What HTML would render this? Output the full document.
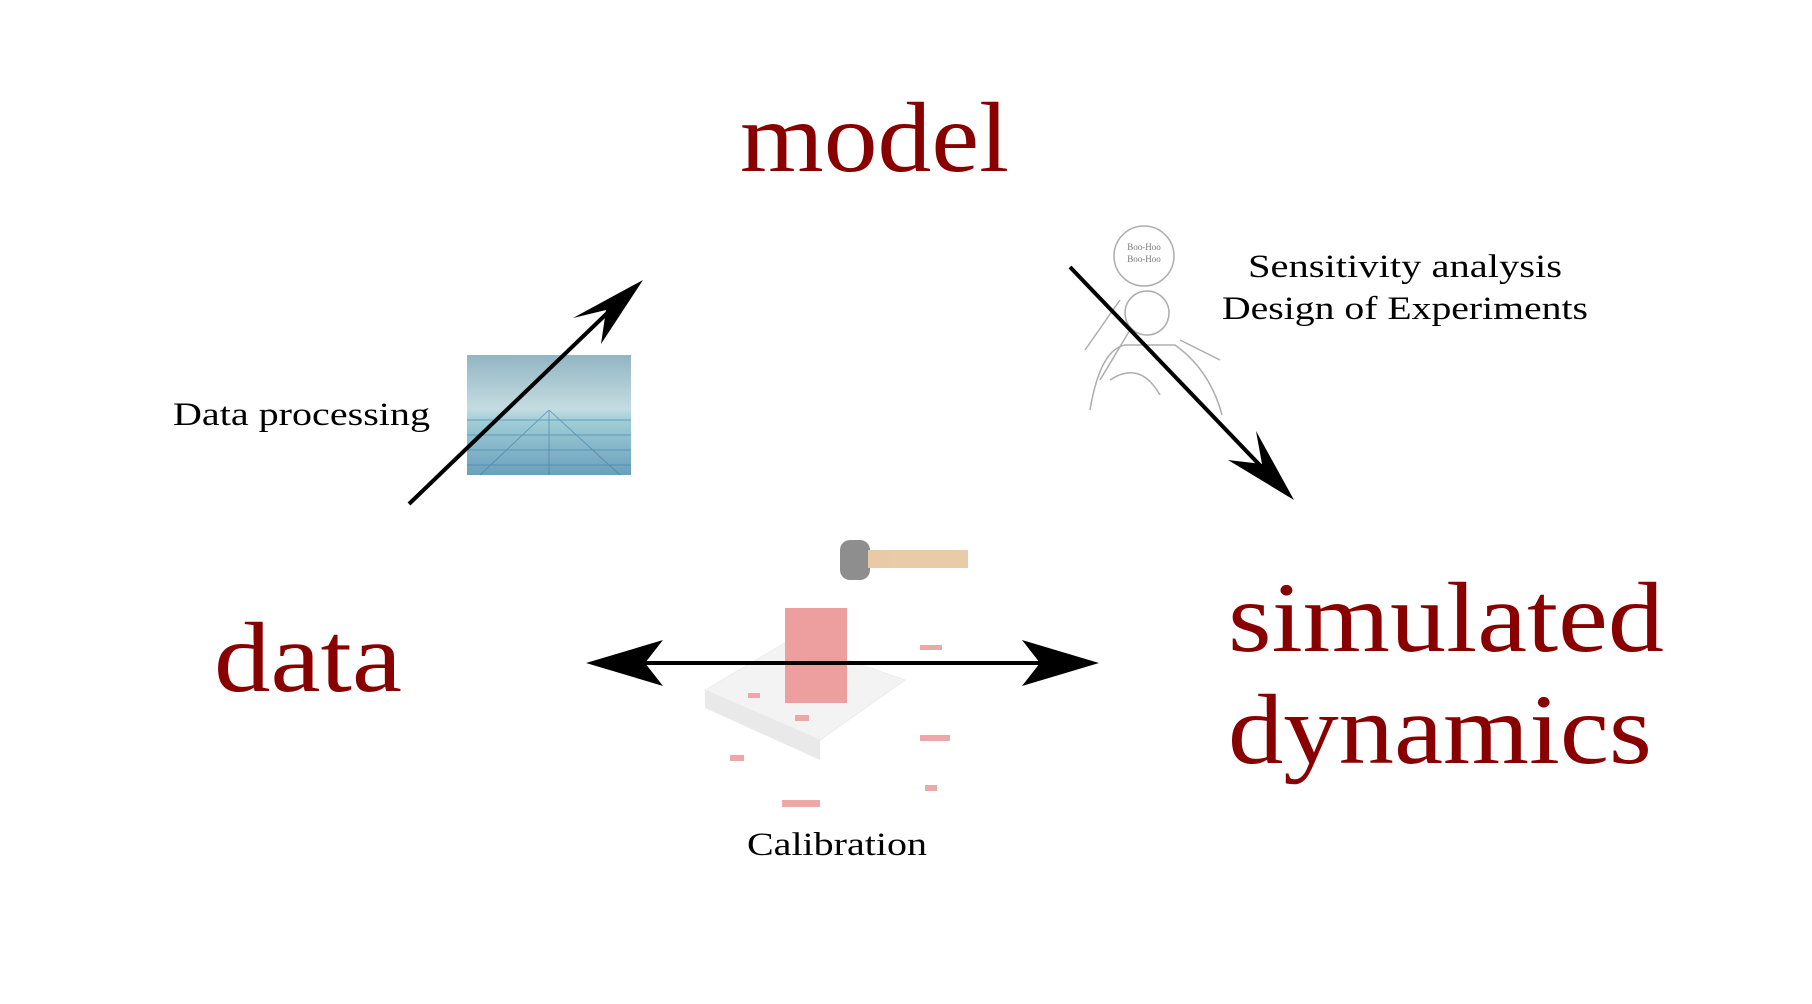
<!DOCTYPE html>
<html><head><meta charset="utf-8"><style>
html,body{margin:0;padding:0;background:#fff;width:1812px;height:1004px;overflow:hidden}
svg{display:block}
text{font-family:"Liberation Serif","DejaVu Serif",serif}
</style></head><body>
<svg width="1812" height="1004" viewBox="0 0 1812 1004">
<defs>
<linearGradient id="blu" x1="0" y1="0" x2="0" y2="1">
<stop offset="0" stop-color="#7fa8b8"/><stop offset="0.45" stop-color="#b9d6dc"/><stop offset="0.55" stop-color="#8fc4d0"/><stop offset="1" stop-color="#4f8fb0"/></linearGradient>
</defs>
<!-- data processing image -->
<rect x="467" y="355" width="164" height="120" fill="url(#blu)" opacity="0.85"/>
<g stroke="#3f7ea6" stroke-width="1" opacity="0.6">
<line x1="467" y1="420" x2="631" y2="420"/><line x1="467" y1="435" x2="631" y2="435"/><line x1="467" y1="450" x2="631" y2="450"/><line x1="467" y1="465" x2="631" y2="465"/>
<line x1="549" y1="410" x2="480" y2="475"/><line x1="549" y1="410" x2="620" y2="475"/><line x1="549" y1="410" x2="549" y2="475"/>
</g>
<!-- calibration image -->
<g opacity="0.55">
<polygon points="705,690 790,640 905,680 820,740" fill="#eaeaea" stroke="#ddd"/>
<polygon points="705,690 820,740 820,760 705,708" fill="#d8d8d8"/>
<rect x="785" y="608" width="62" height="95" fill="#e05050"/>
<rect x="840" y="540" width="30" height="40" rx="10" fill="#333"/>
<rect x="868" y="550" width="100" height="18" fill="#d8a060"/>
<g fill="#e06060"><rect x="748" y="693" width="12" height="5"/><rect x="795" y="715" width="14" height="6"/><rect x="920" y="735" width="30" height="6"/><rect x="730" y="755" width="14" height="6"/><rect x="782" y="800" width="38" height="7"/><rect x="925" y="785" width="12" height="6"/><rect x="920" y="645" width="22" height="5"/></g>
</g>
<!-- cartoon -->
<g fill="none" stroke="#999" stroke-width="1.5" opacity="0.8">
<ellipse cx="1144" cy="256" rx="30" ry="30"/>
<circle cx="1147" cy="313" r="22"/>
<path d="M1090 410 Q1100 350 1125 345 L1175 345 Q1210 370 1222 415"/>
<path d="M1085 350 L1120 300 M1100 380 L1130 330 M1180 340 L1220 360"/>
<path d="M1110 380 Q1140 360 1160 395"/>
</g>
<g font-size="9" fill="#777" text-anchor="middle"><text x="1144" y="250">Boo-Hoo</text><text x="1144" y="262">Boo-Hoo</text></g>
<!-- arrows -->
<g stroke="#000" stroke-width="4" fill="#000">
<line x1="409" y1="504" x2="625" y2="296"/>
<line x1="1070" y1="267" x2="1275" y2="481"/>
<line x1="610" y1="663" x2="1075" y2="663"/>
</g>
<polygon points="643,280 573,318 606,310 601,344" fill="#000"/>
<polygon points="1294,500 1256,431 1262,464 1228,460" fill="#000"/>
<polygon points="586,663 663,640 645,663 663,686" fill="#000"/>
<polygon points="1099,663 1022,640 1040,663 1022,686" fill="#000"/>
<!-- titles -->
<g fill="#880000" font-size="100">
<text x="740" y="171" textLength="269" lengthAdjust="spacingAndGlyphs">model</text>
<text x="214" y="691" textLength="188" lengthAdjust="spacingAndGlyphs">data</text>
<text x="1228" y="651" textLength="436" lengthAdjust="spacingAndGlyphs">simulated</text>
<text x="1228" y="763" textLength="424" lengthAdjust="spacingAndGlyphs">dynamics</text>
</g>
<g fill="#000" font-size="33">
<text x="173" y="425" textLength="257" lengthAdjust="spacingAndGlyphs">Data processing</text>
<text x="1248" y="277" textLength="314" lengthAdjust="spacingAndGlyphs">Sensitivity analysis</text>
<text x="1222" y="319" textLength="366" lengthAdjust="spacingAndGlyphs">Design of Experiments</text>
<text x="747" y="855" textLength="180" lengthAdjust="spacingAndGlyphs">Calibration</text>
</g>
</svg>
</body></html>
